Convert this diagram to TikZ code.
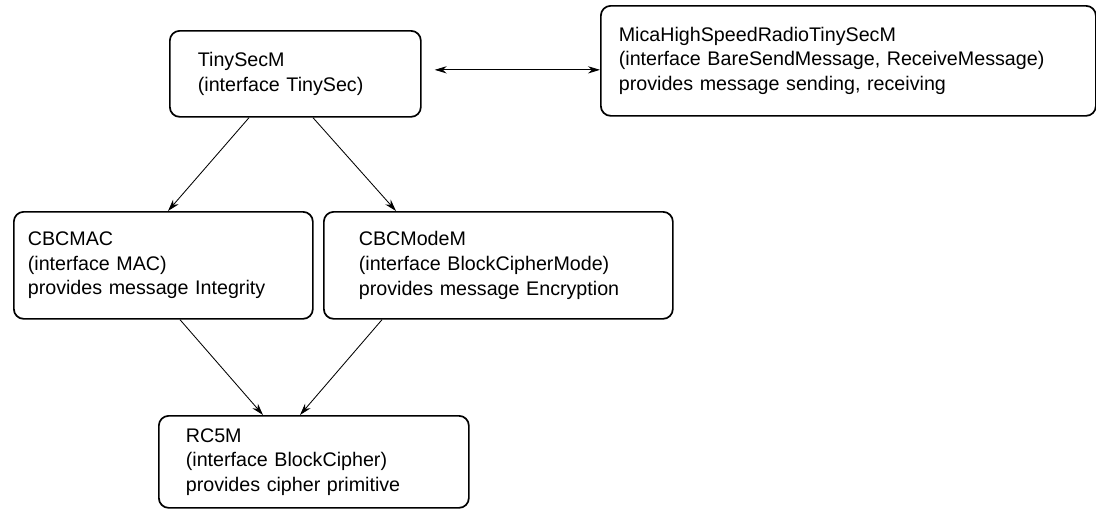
\documentclass[tikz,border=0pt]{standalone}
\usepackage{fontspec}
\setmainfont{Liberation Sans}
\usetikzlibrary{arrows.meta, positioning, calc}

\begin{document}
\begin{tikzpicture}[
    module/.style={draw, line width=1.2pt, rounded corners=7pt, anchor=north west, align=left,
        inner ysep=0pt, font=\fontsize{14}{17.5}\selectfont},
    uses/.style={-{Stealth[length=3mm, width=1.8mm]}, line width=0.6pt},
]
    \useasboundingbox (0, 0) rectangle (27.4, -12.7);

    % Top row
    \node[module, inner xsep=0.7cm, text width=4.875cm, minimum height=2.15cm] (tinysec) at (4.225, -0.75)
        {TinySecM\\(interface TinySec)};
    \node[module, inner xsep=0.45cm, text width=11.475cm, minimum height=2.75cm] (radio) at (15.0, -0.125)
        {MicaHighSpeedRadioTinySecM\\(interface BareSendMessage, ReceiveMessage)\\provides message sending, receiving};

    % Middle row
    \node[module, inner xsep=0.35cm, text width=6.775cm, minimum height=2.675cm] (mac) at (0.325, -5.275)
        {CBCMAC\\(interface MAC)\\provides message Integrity};
    \node[module, inner xsep=0.875cm, text width=6.975cm, minimum height=2.675cm] (mode) at (8.075, -5.275)
        {CBCModeM\\(interface BlockCipherMode)\\provides message Encryption};

    % Bottom
    \node[module, inner xsep=0.675cm, text width=6.4cm, minimum height=2.3cm] (rc5) at (3.95, -10.375)
        {RC5M\\(interface BlockCipher)\\provides cipher primitive};

    % Connections
    \coordinate (link) at ([xshift=0.325cm, yshift=0.1cm]tinysec.east);
    \draw[uses, {Stealth[length=3mm, width=1.8mm]}-{Stealth[length=3mm, width=1.8mm]}] (link) -- (link -| radio.west);
    \draw[uses] ([xshift=2cm]tinysec.south west) -- ([xshift=3.875cm]mac.north west);
    \draw[uses] ([xshift=3.6cm]tinysec.south west) -- ([xshift=1.825cm]mode.north west);
    \draw[uses] ([xshift=4.175cm]mac.south west) -- ([xshift=2.625cm]rc5.north west);
    \draw[uses] ([xshift=1.475cm]mode.south west) -- ([xshift=3.55cm]rc5.north west);

\end{tikzpicture}
\end{document}
